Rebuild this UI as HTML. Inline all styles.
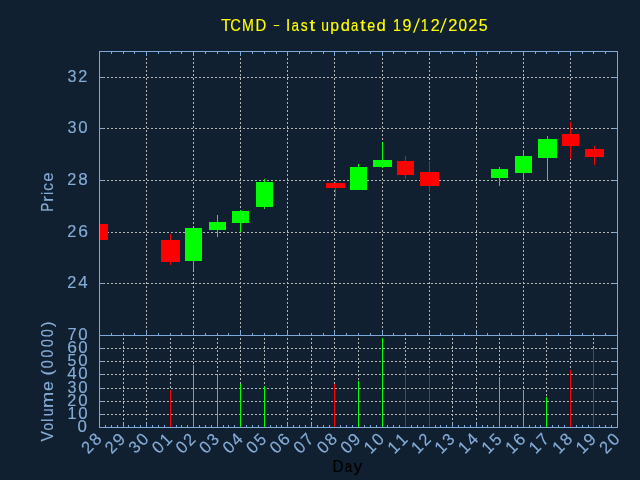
<!DOCTYPE html>
<html><head><meta charset="utf-8"><style>
html,body{margin:0;padding:0;background:#102030;}
svg{display:block;will-change:transform;}
</style></head><body>
<svg width="640" height="480" viewBox="0 0 640 480">
<rect x="0" y="0" width="640" height="480" fill="#102030"/>
<g stroke="#b6b6b6" stroke-width="1" stroke-dasharray="2 2" shape-rendering="crispEdges">
<line x1="103" y1="77.5" x2="617" y2="77.5"/>
<line x1="103" y1="128.5" x2="617" y2="128.5"/>
<line x1="103" y1="180.5" x2="617" y2="180.5"/>
<line x1="103" y1="232.5" x2="617" y2="232.5"/>
<line x1="103" y1="283.5" x2="617" y2="283.5"/>
<line x1="146.5" y1="54" x2="146.5" y2="335"/>
<line x1="193.5" y1="54" x2="193.5" y2="335"/>
<line x1="240.5" y1="54" x2="240.5" y2="335"/>
<line x1="287.5" y1="54" x2="287.5" y2="335"/>
<line x1="334.5" y1="54" x2="334.5" y2="335"/>
<line x1="382.5" y1="54" x2="382.5" y2="335"/>
<line x1="429.5" y1="54" x2="429.5" y2="335"/>
<line x1="476.5" y1="54" x2="476.5" y2="335"/>
<line x1="523.5" y1="54" x2="523.5" y2="335"/>
<line x1="570.5" y1="54" x2="570.5" y2="335"/>
<line x1="103" y1="348.5" x2="617" y2="348.5"/>
<line x1="103" y1="361.5" x2="617" y2="361.5"/>
<line x1="103" y1="374.5" x2="617" y2="374.5"/>
<line x1="103" y1="388.5" x2="617" y2="388.5"/>
<line x1="103" y1="401.5" x2="617" y2="401.5"/>
<line x1="103" y1="414.5" x2="617" y2="414.5"/>
<line x1="123.5" y1="338" x2="123.5" y2="427"/>
<line x1="146.5" y1="338" x2="146.5" y2="427"/>
<line x1="170.5" y1="338" x2="170.5" y2="427"/>
<line x1="193.5" y1="338" x2="193.5" y2="427"/>
<line x1="217.5" y1="338" x2="217.5" y2="427"/>
<line x1="240.5" y1="338" x2="240.5" y2="427"/>
<line x1="264.5" y1="338" x2="264.5" y2="427"/>
<line x1="287.5" y1="338" x2="287.5" y2="427"/>
<line x1="311.5" y1="338" x2="311.5" y2="427"/>
<line x1="334.5" y1="338" x2="334.5" y2="427"/>
<line x1="358.5" y1="338" x2="358.5" y2="427"/>
<line x1="382.5" y1="338" x2="382.5" y2="427"/>
<line x1="405.5" y1="338" x2="405.5" y2="427"/>
<line x1="429.5" y1="338" x2="429.5" y2="427"/>
<line x1="452.5" y1="338" x2="452.5" y2="427"/>
<line x1="476.5" y1="338" x2="476.5" y2="427"/>
<line x1="499.5" y1="338" x2="499.5" y2="427"/>
<line x1="523.5" y1="338" x2="523.5" y2="427"/>
<line x1="546.5" y1="338" x2="546.5" y2="427"/>
<line x1="570.5" y1="338" x2="570.5" y2="427"/>
<line x1="593.5" y1="338" x2="593.5" y2="427"/>
</g>
<g shape-rendering="crispEdges">
<rect x="99" y="51" width="519" height="1" fill="#7ea8d8"/>
<rect x="99" y="51" width="1" height="377" fill="#7ea8d8"/>
<rect x="617" y="51" width="1" height="377" fill="#7ea8d8"/>
<rect x="99" y="335" width="519" height="1" fill="#7ea8d8"/>
<rect x="99" y="427" width="519" height="1" fill="#7ea8d8"/>
<rect x="100" y="77" width="4" height="1" fill="#7ea8d8"/>
<rect x="613" y="77" width="4" height="1" fill="#7ea8d8"/>
<rect x="100" y="128" width="4" height="1" fill="#7ea8d8"/>
<rect x="613" y="128" width="4" height="1" fill="#7ea8d8"/>
<rect x="100" y="180" width="4" height="1" fill="#7ea8d8"/>
<rect x="613" y="180" width="4" height="1" fill="#7ea8d8"/>
<rect x="100" y="232" width="4" height="1" fill="#7ea8d8"/>
<rect x="613" y="232" width="4" height="1" fill="#7ea8d8"/>
<rect x="100" y="283" width="4" height="1" fill="#7ea8d8"/>
<rect x="613" y="283" width="4" height="1" fill="#7ea8d8"/>
<rect x="100" y="348" width="4" height="1" fill="#7ea8d8"/>
<rect x="613" y="348" width="4" height="1" fill="#7ea8d8"/>
<rect x="100" y="361" width="4" height="1" fill="#7ea8d8"/>
<rect x="613" y="361" width="4" height="1" fill="#7ea8d8"/>
<rect x="100" y="374" width="4" height="1" fill="#7ea8d8"/>
<rect x="613" y="374" width="4" height="1" fill="#7ea8d8"/>
<rect x="100" y="388" width="4" height="1" fill="#7ea8d8"/>
<rect x="613" y="388" width="4" height="1" fill="#7ea8d8"/>
<rect x="100" y="401" width="4" height="1" fill="#7ea8d8"/>
<rect x="613" y="401" width="4" height="1" fill="#7ea8d8"/>
<rect x="100" y="414" width="4" height="1" fill="#7ea8d8"/>
<rect x="613" y="414" width="4" height="1" fill="#7ea8d8"/>
<rect x="111" y="52" width="1" height="2" fill="#7ea8d8"/>
<rect x="111" y="333" width="1" height="2" fill="#7ea8d8"/>
<rect x="123" y="52" width="1" height="2" fill="#7ea8d8"/>
<rect x="123" y="333" width="1" height="2" fill="#7ea8d8"/>
<rect x="134" y="52" width="1" height="2" fill="#7ea8d8"/>
<rect x="134" y="333" width="1" height="2" fill="#7ea8d8"/>
<rect x="146" y="52" width="1" height="4" fill="#7ea8d8"/>
<rect x="146" y="331" width="1" height="4" fill="#7ea8d8"/>
<rect x="158" y="52" width="1" height="2" fill="#7ea8d8"/>
<rect x="158" y="333" width="1" height="2" fill="#7ea8d8"/>
<rect x="170" y="52" width="1" height="2" fill="#7ea8d8"/>
<rect x="170" y="333" width="1" height="2" fill="#7ea8d8"/>
<rect x="181" y="52" width="1" height="2" fill="#7ea8d8"/>
<rect x="181" y="333" width="1" height="2" fill="#7ea8d8"/>
<rect x="193" y="52" width="1" height="4" fill="#7ea8d8"/>
<rect x="193" y="331" width="1" height="4" fill="#7ea8d8"/>
<rect x="205" y="52" width="1" height="2" fill="#7ea8d8"/>
<rect x="205" y="333" width="1" height="2" fill="#7ea8d8"/>
<rect x="217" y="52" width="1" height="2" fill="#7ea8d8"/>
<rect x="217" y="333" width="1" height="2" fill="#7ea8d8"/>
<rect x="228" y="52" width="1" height="2" fill="#7ea8d8"/>
<rect x="228" y="333" width="1" height="2" fill="#7ea8d8"/>
<rect x="240" y="52" width="1" height="4" fill="#7ea8d8"/>
<rect x="240" y="331" width="1" height="4" fill="#7ea8d8"/>
<rect x="252" y="52" width="1" height="2" fill="#7ea8d8"/>
<rect x="252" y="333" width="1" height="2" fill="#7ea8d8"/>
<rect x="264" y="52" width="1" height="2" fill="#7ea8d8"/>
<rect x="264" y="333" width="1" height="2" fill="#7ea8d8"/>
<rect x="276" y="52" width="1" height="2" fill="#7ea8d8"/>
<rect x="276" y="333" width="1" height="2" fill="#7ea8d8"/>
<rect x="287" y="52" width="1" height="4" fill="#7ea8d8"/>
<rect x="287" y="331" width="1" height="4" fill="#7ea8d8"/>
<rect x="299" y="52" width="1" height="2" fill="#7ea8d8"/>
<rect x="299" y="333" width="1" height="2" fill="#7ea8d8"/>
<rect x="311" y="52" width="1" height="2" fill="#7ea8d8"/>
<rect x="311" y="333" width="1" height="2" fill="#7ea8d8"/>
<rect x="323" y="52" width="1" height="2" fill="#7ea8d8"/>
<rect x="323" y="333" width="1" height="2" fill="#7ea8d8"/>
<rect x="334" y="52" width="1" height="4" fill="#7ea8d8"/>
<rect x="334" y="331" width="1" height="4" fill="#7ea8d8"/>
<rect x="346" y="52" width="1" height="2" fill="#7ea8d8"/>
<rect x="346" y="333" width="1" height="2" fill="#7ea8d8"/>
<rect x="358" y="52" width="1" height="2" fill="#7ea8d8"/>
<rect x="358" y="333" width="1" height="2" fill="#7ea8d8"/>
<rect x="370" y="52" width="1" height="2" fill="#7ea8d8"/>
<rect x="370" y="333" width="1" height="2" fill="#7ea8d8"/>
<rect x="382" y="52" width="1" height="4" fill="#7ea8d8"/>
<rect x="382" y="331" width="1" height="4" fill="#7ea8d8"/>
<rect x="393" y="52" width="1" height="2" fill="#7ea8d8"/>
<rect x="393" y="333" width="1" height="2" fill="#7ea8d8"/>
<rect x="405" y="52" width="1" height="2" fill="#7ea8d8"/>
<rect x="405" y="333" width="1" height="2" fill="#7ea8d8"/>
<rect x="417" y="52" width="1" height="2" fill="#7ea8d8"/>
<rect x="417" y="333" width="1" height="2" fill="#7ea8d8"/>
<rect x="429" y="52" width="1" height="4" fill="#7ea8d8"/>
<rect x="429" y="331" width="1" height="4" fill="#7ea8d8"/>
<rect x="440" y="52" width="1" height="2" fill="#7ea8d8"/>
<rect x="440" y="333" width="1" height="2" fill="#7ea8d8"/>
<rect x="452" y="52" width="1" height="2" fill="#7ea8d8"/>
<rect x="452" y="333" width="1" height="2" fill="#7ea8d8"/>
<rect x="464" y="52" width="1" height="2" fill="#7ea8d8"/>
<rect x="464" y="333" width="1" height="2" fill="#7ea8d8"/>
<rect x="476" y="52" width="1" height="4" fill="#7ea8d8"/>
<rect x="476" y="331" width="1" height="4" fill="#7ea8d8"/>
<rect x="487" y="52" width="1" height="2" fill="#7ea8d8"/>
<rect x="487" y="333" width="1" height="2" fill="#7ea8d8"/>
<rect x="499" y="52" width="1" height="2" fill="#7ea8d8"/>
<rect x="499" y="333" width="1" height="2" fill="#7ea8d8"/>
<rect x="511" y="52" width="1" height="2" fill="#7ea8d8"/>
<rect x="511" y="333" width="1" height="2" fill="#7ea8d8"/>
<rect x="523" y="52" width="1" height="4" fill="#7ea8d8"/>
<rect x="523" y="331" width="1" height="4" fill="#7ea8d8"/>
<rect x="535" y="52" width="1" height="2" fill="#7ea8d8"/>
<rect x="535" y="333" width="1" height="2" fill="#7ea8d8"/>
<rect x="546" y="52" width="1" height="2" fill="#7ea8d8"/>
<rect x="546" y="333" width="1" height="2" fill="#7ea8d8"/>
<rect x="558" y="52" width="1" height="2" fill="#7ea8d8"/>
<rect x="558" y="333" width="1" height="2" fill="#7ea8d8"/>
<rect x="570" y="52" width="1" height="4" fill="#7ea8d8"/>
<rect x="570" y="331" width="1" height="4" fill="#7ea8d8"/>
<rect x="582" y="52" width="1" height="2" fill="#7ea8d8"/>
<rect x="582" y="333" width="1" height="2" fill="#7ea8d8"/>
<rect x="593" y="52" width="1" height="2" fill="#7ea8d8"/>
<rect x="593" y="333" width="1" height="2" fill="#7ea8d8"/>
<rect x="605" y="52" width="1" height="2" fill="#7ea8d8"/>
<rect x="605" y="333" width="1" height="2" fill="#7ea8d8"/>
<rect x="105" y="425" width="1" height="2" fill="#7ea8d8"/>
<rect x="111" y="425" width="1" height="2" fill="#7ea8d8"/>
<rect x="117" y="425" width="1" height="2" fill="#7ea8d8"/>
<rect x="123" y="423" width="1" height="4" fill="#7ea8d8"/>
<rect x="128" y="425" width="1" height="2" fill="#7ea8d8"/>
<rect x="134" y="425" width="1" height="2" fill="#7ea8d8"/>
<rect x="140" y="425" width="1" height="2" fill="#7ea8d8"/>
<rect x="146" y="423" width="1" height="4" fill="#7ea8d8"/>
<rect x="152" y="425" width="1" height="2" fill="#7ea8d8"/>
<rect x="158" y="425" width="1" height="2" fill="#7ea8d8"/>
<rect x="164" y="425" width="1" height="2" fill="#7ea8d8"/>
<rect x="170" y="423" width="1" height="4" fill="#7ea8d8"/>
<rect x="176" y="425" width="1" height="2" fill="#7ea8d8"/>
<rect x="181" y="425" width="1" height="2" fill="#7ea8d8"/>
<rect x="187" y="425" width="1" height="2" fill="#7ea8d8"/>
<rect x="193" y="423" width="1" height="4" fill="#7ea8d8"/>
<rect x="199" y="425" width="1" height="2" fill="#7ea8d8"/>
<rect x="205" y="425" width="1" height="2" fill="#7ea8d8"/>
<rect x="211" y="425" width="1" height="2" fill="#7ea8d8"/>
<rect x="217" y="423" width="1" height="4" fill="#7ea8d8"/>
<rect x="223" y="425" width="1" height="2" fill="#7ea8d8"/>
<rect x="228" y="425" width="1" height="2" fill="#7ea8d8"/>
<rect x="234" y="425" width="1" height="2" fill="#7ea8d8"/>
<rect x="240" y="423" width="1" height="4" fill="#7ea8d8"/>
<rect x="246" y="425" width="1" height="2" fill="#7ea8d8"/>
<rect x="252" y="425" width="1" height="2" fill="#7ea8d8"/>
<rect x="258" y="425" width="1" height="2" fill="#7ea8d8"/>
<rect x="264" y="423" width="1" height="4" fill="#7ea8d8"/>
<rect x="270" y="425" width="1" height="2" fill="#7ea8d8"/>
<rect x="276" y="425" width="1" height="2" fill="#7ea8d8"/>
<rect x="281" y="425" width="1" height="2" fill="#7ea8d8"/>
<rect x="287" y="423" width="1" height="4" fill="#7ea8d8"/>
<rect x="293" y="425" width="1" height="2" fill="#7ea8d8"/>
<rect x="299" y="425" width="1" height="2" fill="#7ea8d8"/>
<rect x="305" y="425" width="1" height="2" fill="#7ea8d8"/>
<rect x="311" y="423" width="1" height="4" fill="#7ea8d8"/>
<rect x="317" y="425" width="1" height="2" fill="#7ea8d8"/>
<rect x="323" y="425" width="1" height="2" fill="#7ea8d8"/>
<rect x="329" y="425" width="1" height="2" fill="#7ea8d8"/>
<rect x="334" y="423" width="1" height="4" fill="#7ea8d8"/>
<rect x="340" y="425" width="1" height="2" fill="#7ea8d8"/>
<rect x="346" y="425" width="1" height="2" fill="#7ea8d8"/>
<rect x="352" y="425" width="1" height="2" fill="#7ea8d8"/>
<rect x="358" y="423" width="1" height="4" fill="#7ea8d8"/>
<rect x="364" y="425" width="1" height="2" fill="#7ea8d8"/>
<rect x="370" y="425" width="1" height="2" fill="#7ea8d8"/>
<rect x="376" y="425" width="1" height="2" fill="#7ea8d8"/>
<rect x="382" y="423" width="1" height="4" fill="#7ea8d8"/>
<rect x="387" y="425" width="1" height="2" fill="#7ea8d8"/>
<rect x="393" y="425" width="1" height="2" fill="#7ea8d8"/>
<rect x="399" y="425" width="1" height="2" fill="#7ea8d8"/>
<rect x="405" y="423" width="1" height="4" fill="#7ea8d8"/>
<rect x="411" y="425" width="1" height="2" fill="#7ea8d8"/>
<rect x="417" y="425" width="1" height="2" fill="#7ea8d8"/>
<rect x="423" y="425" width="1" height="2" fill="#7ea8d8"/>
<rect x="429" y="423" width="1" height="4" fill="#7ea8d8"/>
<rect x="435" y="425" width="1" height="2" fill="#7ea8d8"/>
<rect x="440" y="425" width="1" height="2" fill="#7ea8d8"/>
<rect x="446" y="425" width="1" height="2" fill="#7ea8d8"/>
<rect x="452" y="423" width="1" height="4" fill="#7ea8d8"/>
<rect x="458" y="425" width="1" height="2" fill="#7ea8d8"/>
<rect x="464" y="425" width="1" height="2" fill="#7ea8d8"/>
<rect x="470" y="425" width="1" height="2" fill="#7ea8d8"/>
<rect x="476" y="423" width="1" height="4" fill="#7ea8d8"/>
<rect x="482" y="425" width="1" height="2" fill="#7ea8d8"/>
<rect x="487" y="425" width="1" height="2" fill="#7ea8d8"/>
<rect x="493" y="425" width="1" height="2" fill="#7ea8d8"/>
<rect x="499" y="423" width="1" height="4" fill="#7ea8d8"/>
<rect x="505" y="425" width="1" height="2" fill="#7ea8d8"/>
<rect x="511" y="425" width="1" height="2" fill="#7ea8d8"/>
<rect x="517" y="425" width="1" height="2" fill="#7ea8d8"/>
<rect x="523" y="423" width="1" height="4" fill="#7ea8d8"/>
<rect x="529" y="425" width="1" height="2" fill="#7ea8d8"/>
<rect x="535" y="425" width="1" height="2" fill="#7ea8d8"/>
<rect x="540" y="425" width="1" height="2" fill="#7ea8d8"/>
<rect x="546" y="423" width="1" height="4" fill="#7ea8d8"/>
<rect x="552" y="425" width="1" height="2" fill="#7ea8d8"/>
<rect x="558" y="425" width="1" height="2" fill="#7ea8d8"/>
<rect x="564" y="425" width="1" height="2" fill="#7ea8d8"/>
<rect x="570" y="423" width="1" height="4" fill="#7ea8d8"/>
<rect x="576" y="425" width="1" height="2" fill="#7ea8d8"/>
<rect x="582" y="425" width="1" height="2" fill="#7ea8d8"/>
<rect x="588" y="425" width="1" height="2" fill="#7ea8d8"/>
<rect x="593" y="423" width="1" height="4" fill="#7ea8d8"/>
<rect x="599" y="425" width="1" height="2" fill="#7ea8d8"/>
<rect x="605" y="425" width="1" height="2" fill="#7ea8d8"/>
<rect x="611" y="425" width="1" height="2" fill="#7ea8d8"/>
<rect x="100" y="224" width="8" height="16" fill="#ff0000"/>
<rect x="170" y="234" width="1" height="31" fill="#ff0000"/>
<rect x="161" y="240" width="19" height="22" fill="#ff0000"/>
<rect x="193" y="228" width="1" height="42" fill="#00ff00"/>
<rect x="185" y="228" width="17" height="33" fill="#00ff00"/>
<rect x="217" y="215" width="1" height="22" fill="#00ff00"/>
<rect x="209" y="222" width="17" height="8" fill="#00ff00"/>
<rect x="240" y="210" width="1" height="22" fill="#00ff00"/>
<rect x="232" y="211" width="17" height="12" fill="#00ff00"/>
<rect x="264" y="179" width="1" height="30" fill="#00ff00"/>
<rect x="256" y="182" width="17" height="25" fill="#00ff00"/>
<rect x="335" y="182" width="1" height="15" fill="#ff0000"/>
<rect x="326" y="183" width="19" height="5" fill="#ff0000"/>
<rect x="358" y="164" width="1" height="26" fill="#00ff00"/>
<rect x="350" y="167" width="17" height="23" fill="#00ff00"/>
<rect x="382" y="142" width="1" height="26" fill="#00ff00"/>
<rect x="373" y="160" width="19" height="7" fill="#00ff00"/>
<rect x="405" y="156" width="1" height="23" fill="#ff0000"/>
<rect x="397" y="161" width="17" height="14" fill="#ff0000"/>
<rect x="429" y="161" width="1" height="31" fill="#ff0000"/>
<rect x="420" y="172" width="19" height="14" fill="#ff0000"/>
<rect x="499" y="167" width="1" height="19" fill="#00ff00"/>
<rect x="491" y="169" width="17" height="9" fill="#00ff00"/>
<rect x="523" y="150" width="1" height="31" fill="#00ff00"/>
<rect x="515" y="156" width="17" height="17" fill="#00ff00"/>
<rect x="547" y="136" width="1" height="45" fill="#00ff00"/>
<rect x="538" y="139" width="19" height="19" fill="#00ff00"/>
<rect x="570" y="122" width="1" height="37" fill="#ff0000"/>
<rect x="562" y="134" width="17" height="12" fill="#ff0000"/>
<rect x="594" y="146" width="1" height="19" fill="#ff0000"/>
<rect x="585" y="149" width="19" height="8" fill="#ff0000"/>
<rect x="170" y="390" width="1" height="37" fill="#ff0000"/>
<rect x="193" y="365" width="1" height="62" fill="#00ff00"/>
<rect x="217" y="375" width="1" height="52" fill="#00ff00"/>
<rect x="240" y="384" width="1" height="43" fill="#00ff00"/>
<rect x="264" y="386" width="1" height="41" fill="#00ff00"/>
<rect x="334" y="384" width="1" height="43" fill="#ff0000"/>
<rect x="358" y="381" width="1" height="46" fill="#00ff00"/>
<rect x="382" y="338" width="1" height="89" fill="#00ff00"/>
<rect x="405" y="370" width="1" height="57" fill="#ff0000"/>
<rect x="429" y="369" width="1" height="58" fill="#ff0000"/>
<rect x="499" y="377" width="1" height="50" fill="#00ff00"/>
<rect x="523" y="390" width="1" height="37" fill="#00ff00"/>
<rect x="546" y="397" width="1" height="30" fill="#00ff00"/>
<rect x="570" y="370" width="1" height="57" fill="#ff0000"/>
<rect x="593" y="348" width="1" height="79" fill="#ff0000"/>
</g>
<g font-family="'Liberation Sans', sans-serif">
<rect x="273.8" y="25" width="5.4" height="1.05" fill="#ffff00"/>
<g fill="#ffff00" stroke="#ffff00" stroke-width="0.15" font-size="17"><text transform="translate(220.98,31.00) scale(0.957,1.0)">T</text><text transform="translate(230.25,31.00) scale(0.864,1.0)">C</text><text transform="translate(241.99,31.00) scale(0.835,1.0)">M</text><text transform="translate(255.43,31.00) scale(0.874,1.0)">D</text><text transform="translate(286.34,31.00) scale(0.970,1.0)">l</text><text transform="translate(291.38,31.00) scale(0.796,1.0)">a</text><text transform="translate(300.77,31.00) scale(0.809,1.0)">s</text><text transform="translate(309.44,31.00) scale(1.198,1.0)">t</text><text transform="translate(321.35,31.00) scale(0.817,1.0)">u</text><text transform="translate(330.23,31.00) scale(0.929,1.0)">p</text><text transform="translate(340.66,31.00) scale(0.968,1.0)">d</text><text transform="translate(351.00,31.00) scale(0.767,1.0)">a</text><text transform="translate(360.27,31.00) scale(1.106,1.0)">t</text><text transform="translate(367.14,31.00) scale(0.840,1.0)">e</text><text transform="translate(376.45,31.00) scale(0.981,1.0)">d</text><text transform="translate(393.01,31.00) scale(0.839,1.0)">1</text><text transform="translate(402.60,31.00) scale(0.942,1.0)">9</text><text transform="translate(420.87,31.00) scale(0.832,1.0)">1</text><text transform="translate(430.64,31.00) scale(0.943,1.0)">2</text><text transform="translate(448.32,31.00) scale(0.968,1.0)">2</text><text transform="translate(458.50,31.00) scale(0.904,1.0)">0</text><text transform="translate(468.27,31.00) scale(0.975,1.0)">2</text><text transform="translate(478.77,31.00) scale(0.935,1.0)">5</text></g>
<polygon fill="#ffff00" points="412.95,32.7 414.40,32.7 420.00,18.3 418.55,18.3"/>
<polygon fill="#ffff00" points="439.75,32.7 441.20,32.7 446.80,18.3 445.35,18.3"/>
<g fill="#86acd8" stroke="#86acd8" stroke-width="0.15" font-size="17"><text transform="translate(67.55,82.00) scale(0.953,1.0)">3</text><text transform="translate(78.25,82.00) scale(0.956,1.0)">2</text></g>
<g fill="#86acd8" stroke="#86acd8" stroke-width="0.15" font-size="17"><text transform="translate(67.55,133.00) scale(0.953,1.0)">3</text><text transform="translate(78.30,133.00) scale(0.992,1.0)">0</text></g>
<g fill="#86acd8" stroke="#86acd8" stroke-width="0.15" font-size="17"><text transform="translate(67.30,185.00) scale(0.956,1.0)">2</text><text transform="translate(78.25,185.00) scale(1.003,1.0)">8</text></g>
<g fill="#86acd8" stroke="#86acd8" stroke-width="0.15" font-size="17"><text transform="translate(67.30,237.00) scale(0.956,1.0)">2</text><text transform="translate(78.13,237.00) scale(1.027,1.0)">6</text></g>
<g fill="#86acd8" stroke="#86acd8" stroke-width="0.15" font-size="17"><text transform="translate(67.30,288.00) scale(0.956,1.0)">2</text><text transform="translate(78.29,288.00) scale(0.992,1.0)">4</text></g>
<g fill="#86acd8" stroke="#86acd8" stroke-width="0.15" font-size="17"><text transform="translate(67.42,340.00) scale(0.970,1.0)">7</text><text transform="translate(78.30,340.00) scale(0.992,1.0)">0</text></g>
<g fill="#86acd8" stroke="#86acd8" stroke-width="0.15" font-size="17"><text transform="translate(67.18,353.00) scale(1.027,1.0)">6</text><text transform="translate(78.30,353.00) scale(0.992,1.0)">0</text></g>
<g fill="#86acd8" stroke="#86acd8" stroke-width="0.15" font-size="17"><text transform="translate(67.55,366.00) scale(0.936,1.0)">5</text><text transform="translate(78.30,366.00) scale(0.992,1.0)">0</text></g>
<g fill="#86acd8" stroke="#86acd8" stroke-width="0.15" font-size="17"><text transform="translate(67.34,379.00) scale(0.992,1.0)">4</text><text transform="translate(78.30,379.00) scale(0.992,1.0)">0</text></g>
<g fill="#86acd8" stroke="#86acd8" stroke-width="0.15" font-size="17"><text transform="translate(67.55,393.00) scale(0.953,1.0)">3</text><text transform="translate(78.30,393.00) scale(0.992,1.0)">0</text></g>
<g fill="#86acd8" stroke="#86acd8" stroke-width="0.15" font-size="17"><text transform="translate(67.30,406.00) scale(0.956,1.0)">2</text><text transform="translate(78.30,406.00) scale(0.992,1.0)">0</text></g>
<g fill="#86acd8" stroke="#86acd8" stroke-width="0.15" font-size="17"><text transform="translate(67.48,419.00) scale(0.948,1.0)">1</text><text transform="translate(78.30,419.00) scale(0.992,1.0)">0</text></g>
<g fill="#86acd8" stroke="#86acd8" stroke-width="0.15" font-size="17"><text transform="translate(77.40,432.00) scale(0.992,1.0)">0</text></g>
<g fill="#86acd8" stroke="#86acd8" stroke-width="0.15" font-size="17" transform="translate(53,0) rotate(-90)"><text transform="translate(-211.43,0.00) scale(0.774,1.0)">P</text><text transform="translate(-201.97,0.00) scale(1.082,1.0)">r</text><text transform="translate(-195.04,0.00) scale(0.870,1.0)">i</text><text transform="translate(-190.79,0.00) scale(0.887,1.0)">c</text><text transform="translate(-181.77,0.00) scale(0.990,1.0)">e</text></g>
<g fill="#86acd8" stroke="#86acd8" stroke-width="0.15" font-size="17" transform="translate(53.1,0) rotate(-90)"><text transform="translate(-441.42,0.00) scale(0.921,1.0)">V</text><text transform="translate(-430.43,0.00) scale(0.810,1.0)">o</text><text transform="translate(-422.02,0.00) scale(0.937,1.0)">l</text><text transform="translate(-416.37,0.00) scale(0.831,1.0)">u</text><text transform="translate(-407.94,0.00) scale(1.142,1.0)">m</text><text transform="translate(-390.90,0.00) scale(1.040,1.0)">e</text><text transform="translate(-375.45,0.00) scale(1.043,1.0)">(</text><text transform="translate(-368.21,0.00) scale(0.849,1.0)">0</text><text transform="translate(-357.49,0.00) scale(0.812,1.0)">0</text><text transform="translate(-346.90,0.00) scale(0.824,1.0)">0</text><text transform="translate(-336.90,0.00) scale(0.824,1.0)">0</text><text transform="translate(-327.05,0.00) scale(0.954,1.0)">)</text></g>
<g fill="#86acd8" stroke="#86acd8" stroke-width="0.15" font-size="17" transform="translate(95.70,447.05) rotate(-45)"><text transform="translate(-10.60,0.00) scale(0.956,1.0)">2</text><text transform="translate(0.35,0.00) scale(1.003,1.0)">8</text></g>
<g fill="#86acd8" stroke="#86acd8" stroke-width="0.15" font-size="17" transform="translate(119.25,447.05) rotate(-45)"><text transform="translate(-10.60,0.00) scale(0.956,1.0)">2</text><text transform="translate(0.19,0.00) scale(1.025,1.0)">9</text></g>
<g fill="#86acd8" stroke="#86acd8" stroke-width="0.15" font-size="17" transform="translate(142.79,447.05) rotate(-45)"><text transform="translate(-10.35,0.00) scale(0.953,1.0)">3</text><text transform="translate(0.40,0.00) scale(0.992,1.0)">0</text></g>
<g fill="#86acd8" stroke="#86acd8" stroke-width="0.15" font-size="17" transform="translate(166.33,447.05) rotate(-45)"><text transform="translate(-10.55,0.00) scale(0.992,1.0)">0</text><text transform="translate(0.53,0.00) scale(0.948,1.0)">1</text></g>
<g fill="#86acd8" stroke="#86acd8" stroke-width="0.15" font-size="17" transform="translate(189.88,447.05) rotate(-45)"><text transform="translate(-10.55,0.00) scale(0.992,1.0)">0</text><text transform="translate(0.35,0.00) scale(0.956,1.0)">2</text></g>
<g fill="#86acd8" stroke="#86acd8" stroke-width="0.15" font-size="17" transform="translate(213.43,447.05) rotate(-45)"><text transform="translate(-10.55,0.00) scale(0.992,1.0)">0</text><text transform="translate(0.60,0.00) scale(0.953,1.0)">3</text></g>
<g fill="#86acd8" stroke="#86acd8" stroke-width="0.15" font-size="17" transform="translate(236.97,447.05) rotate(-45)"><text transform="translate(-10.55,0.00) scale(0.992,1.0)">0</text><text transform="translate(0.39,0.00) scale(0.992,1.0)">4</text></g>
<g fill="#86acd8" stroke="#86acd8" stroke-width="0.15" font-size="17" transform="translate(260.51,447.05) rotate(-45)"><text transform="translate(-10.55,0.00) scale(0.992,1.0)">0</text><text transform="translate(0.60,0.00) scale(0.936,1.0)">5</text></g>
<g fill="#86acd8" stroke="#86acd8" stroke-width="0.15" font-size="17" transform="translate(284.06,447.05) rotate(-45)"><text transform="translate(-10.55,0.00) scale(0.992,1.0)">0</text><text transform="translate(0.23,0.00) scale(1.027,1.0)">6</text></g>
<g fill="#86acd8" stroke="#86acd8" stroke-width="0.15" font-size="17" transform="translate(307.61,447.05) rotate(-45)"><text transform="translate(-10.55,0.00) scale(0.992,1.0)">0</text><text transform="translate(0.47,0.00) scale(0.970,1.0)">7</text></g>
<g fill="#86acd8" stroke="#86acd8" stroke-width="0.15" font-size="17" transform="translate(331.15,447.05) rotate(-45)"><text transform="translate(-10.55,0.00) scale(0.992,1.0)">0</text><text transform="translate(0.35,0.00) scale(1.003,1.0)">8</text></g>
<g fill="#86acd8" stroke="#86acd8" stroke-width="0.15" font-size="17" transform="translate(354.69,447.05) rotate(-45)"><text transform="translate(-10.55,0.00) scale(0.992,1.0)">0</text><text transform="translate(0.19,0.00) scale(1.025,1.0)">9</text></g>
<g fill="#86acd8" stroke="#86acd8" stroke-width="0.15" font-size="17" transform="translate(378.24,447.05) rotate(-45)"><text transform="translate(-10.42,0.00) scale(0.948,1.0)">1</text><text transform="translate(0.40,0.00) scale(0.992,1.0)">0</text></g>
<g fill="#86acd8" stroke="#86acd8" stroke-width="0.15" font-size="17" transform="translate(401.79,447.05) rotate(-45)"><text transform="translate(-10.42,0.00) scale(0.948,1.0)">1</text><text transform="translate(0.53,0.00) scale(0.948,1.0)">1</text></g>
<g fill="#86acd8" stroke="#86acd8" stroke-width="0.15" font-size="17" transform="translate(425.33,447.05) rotate(-45)"><text transform="translate(-10.42,0.00) scale(0.948,1.0)">1</text><text transform="translate(0.35,0.00) scale(0.956,1.0)">2</text></g>
<g fill="#86acd8" stroke="#86acd8" stroke-width="0.15" font-size="17" transform="translate(448.88,447.05) rotate(-45)"><text transform="translate(-10.42,0.00) scale(0.948,1.0)">1</text><text transform="translate(0.60,0.00) scale(0.953,1.0)">3</text></g>
<g fill="#86acd8" stroke="#86acd8" stroke-width="0.15" font-size="17" transform="translate(472.42,447.05) rotate(-45)"><text transform="translate(-10.42,0.00) scale(0.948,1.0)">1</text><text transform="translate(0.39,0.00) scale(0.992,1.0)">4</text></g>
<g fill="#86acd8" stroke="#86acd8" stroke-width="0.15" font-size="17" transform="translate(495.97,447.05) rotate(-45)"><text transform="translate(-10.42,0.00) scale(0.948,1.0)">1</text><text transform="translate(0.60,0.00) scale(0.936,1.0)">5</text></g>
<g fill="#86acd8" stroke="#86acd8" stroke-width="0.15" font-size="17" transform="translate(519.51,447.05) rotate(-45)"><text transform="translate(-10.42,0.00) scale(0.948,1.0)">1</text><text transform="translate(0.23,0.00) scale(1.027,1.0)">6</text></g>
<g fill="#86acd8" stroke="#86acd8" stroke-width="0.15" font-size="17" transform="translate(543.06,447.05) rotate(-45)"><text transform="translate(-10.42,0.00) scale(0.948,1.0)">1</text><text transform="translate(0.47,0.00) scale(0.970,1.0)">7</text></g>
<g fill="#86acd8" stroke="#86acd8" stroke-width="0.15" font-size="17" transform="translate(566.60,447.05) rotate(-45)"><text transform="translate(-10.42,0.00) scale(0.948,1.0)">1</text><text transform="translate(0.35,0.00) scale(1.003,1.0)">8</text></g>
<g fill="#86acd8" stroke="#86acd8" stroke-width="0.15" font-size="17" transform="translate(590.15,447.05) rotate(-45)"><text transform="translate(-10.42,0.00) scale(0.948,1.0)">1</text><text transform="translate(0.19,0.00) scale(1.025,1.0)">9</text></g>
<g fill="#86acd8" stroke="#86acd8" stroke-width="0.15" font-size="17" transform="translate(613.69,447.05) rotate(-45)"><text transform="translate(-10.60,0.00) scale(0.956,1.0)">2</text><text transform="translate(0.40,0.00) scale(0.992,1.0)">0</text></g>
<g fill="#000000" stroke="#000000" stroke-width="0.15" font-size="17"><text transform="translate(332.40,471.80) scale(0.894,1.0)">D</text><text transform="translate(344.69,471.80) scale(0.779,1.0)">a</text><text transform="translate(353.61,471.80) scale(1.033,1.0)">y</text></g>
</g>
</svg>
</body></html>
